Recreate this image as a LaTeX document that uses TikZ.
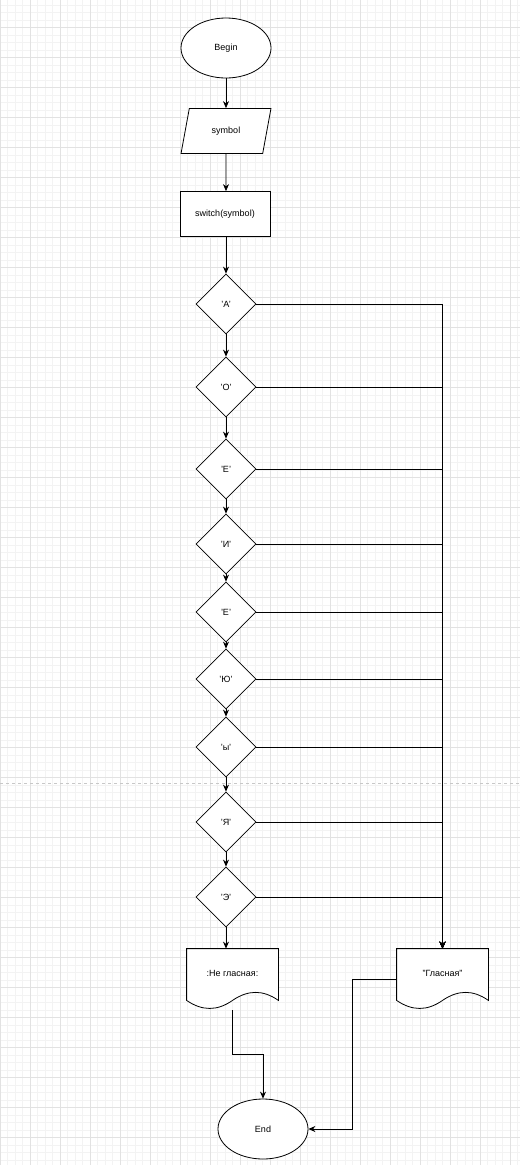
\documentclass[tikz,border=0pt]{standalone}
\usepackage{fontspec}
\setmainfont{Liberation Sans}
\usetikzlibrary{shapes.geometric,arrows.meta}
\definecolor{gridminor}{RGB}{243,243,243}
\definecolor{gridmajor}{RGB}{226,226,226}
\definecolor{pagebreak}{RGB}{200,200,200}

% document shape: wavy bottom drawn round an empty node
\newcommand{\docoutline}[1]{%
  \draw[fill=white] ([yshift=9pt]#1.south west) -- (#1.north west) -- (#1.north east) -- ([yshift=9pt]#1.south east)
    .. controls ([xshift=-15.2pt,yshift=19.7pt]#1.south east) and ([xshift=-30.3pt,yshift=19.7pt]#1.south east) .. ([yshift=9pt]#1.south)
    .. controls ([xshift=-15.2pt,yshift=-1.7pt]#1.south) and ([xshift=-30.3pt,yshift=-1.7pt]#1.south) .. ([yshift=9pt]#1.south west) -- cycle;}

\begin{document}
\begin{tikzpicture}[x=1pt, y=-1pt, font=\fontsize{9}{11}\selectfont, line width=0.8pt,
  terminal/.style={ellipse, draw, fill=white, minimum width=90pt, minimum height=60pt, inner sep=0pt},
  inout/.style={trapezium, trapezium left angle=69, trapezium right angle=111, trapezium stretches=true, draw, fill=white, minimum width=90pt, minimum height=45pt, inner sep=0pt},
  process/.style={rectangle, draw, fill=white, minimum width=90pt, minimum height=45pt, inner sep=0pt},
  choice/.style={diamond, draw, fill=white, minimum width=60pt, minimum height=60pt, inner sep=0pt},
  docbox/.style={rectangle, minimum width=91pt, minimum height=60pt, inner sep=0pt},
  flow/.style={-{Stealth[length=7pt,width=6pt]}}]
\useasboundingbox (0,0) rectangle (520,1165);
% background grid
\fill[white] (0,0) rectangle (520,1165);
\begin{scope}[yshift=-4.8pt]
\draw[gridminor, line width=0.5pt, step=7.5pt] (0,-10) grid (520,1175);
\end{scope}
\begin{scope}[yshift=-27.3pt]
\draw[gridmajor, line width=0.5pt, step=30pt] (0,-40) grid (520,1175);
\end{scope}
\draw[pagebreak, dashed, line width=0.5pt] (0,783) -- (520,783);

% main column
\node[terminal] (begin) at (226,48) {Begin};
\node[inout] (sym) at (226,131) {symbol};
\node[process] (sw) at (225,214) {switch(symbol)};

\node[choice] (ca) at (226,304) {'А'};
\node[choice] (co) at (226,387) {'О'};
\node[choice] (ce) at (226,469) {'Е'};
\node[choice] (ci) at (226,544) {'И'};
\node[choice] (cyo) at (226,612) {'Е'};
\node[choice] (cyu) at (226,679) {'Ю'};
\node[choice] (cy) at (226,747) {'ы'};
\node[choice] (cya) at (226,822) {'Я'};
\node[choice] (cae) at (226,897) {'Э'};

% outputs
\node[docbox] (notvowel) at (232.5,979) {};
\docoutline{notvowel}
\node (notvoweltext) at ([yshift=6pt]notvowel.center) {:Не гласная:};
\node[docbox] (vowel) at (442.5,979) {};
\docoutline{vowel}
\node (voweltext) at ([yshift=6pt]vowel.center) {"Гласная"};

\node[terminal] (end) at (263,1129) {End};

% Arrows
\draw[flow] (begin) -- (sym);
\draw[flow] (sym) -- (sym.south |- sw.north);
\draw[flow] (sw.south -| ca.north) -- (ca);
\draw[flow] (ca) -- (co);
\draw[flow] (co) -- (ce);
\draw[flow] (ce) -- (ci);
\draw[flow] (ci) -- (cyo);
\draw[flow] (cyo) -- (cyu);
\draw[flow] (cyu) -- (cy);
\draw[flow] (cy) -- (cya);
\draw[flow] (cya) -- (cae);
\draw[flow] (cae.south) -- (cae.south |- notvowel.north);

% Vowel branches
\draw[flow] (ca.east) -| (vowel.north);
\draw[flow] (co.east) -| (vowel.north);
\draw[flow] (ce.east) -| (vowel.north);
\draw[flow] (ci.east) -| (vowel.north);
\draw[flow] (cyo.east) -| (vowel.north);
\draw[flow] (cyu.east) -| (vowel.north);
\draw[flow] (cy.east) -| (vowel.north);
\draw[flow] (cya.east) -| (vowel.north);
\draw[flow] (cae.east) -| (vowel.north);

% To end
\draw[flow] ([yshift=-1pt]notvowel.south) -- ++(0,44) -| (end.north);
\draw[flow] (vowel.west) -- ++(-44,0) |- (end.east);
\end{tikzpicture}
\end{document}
